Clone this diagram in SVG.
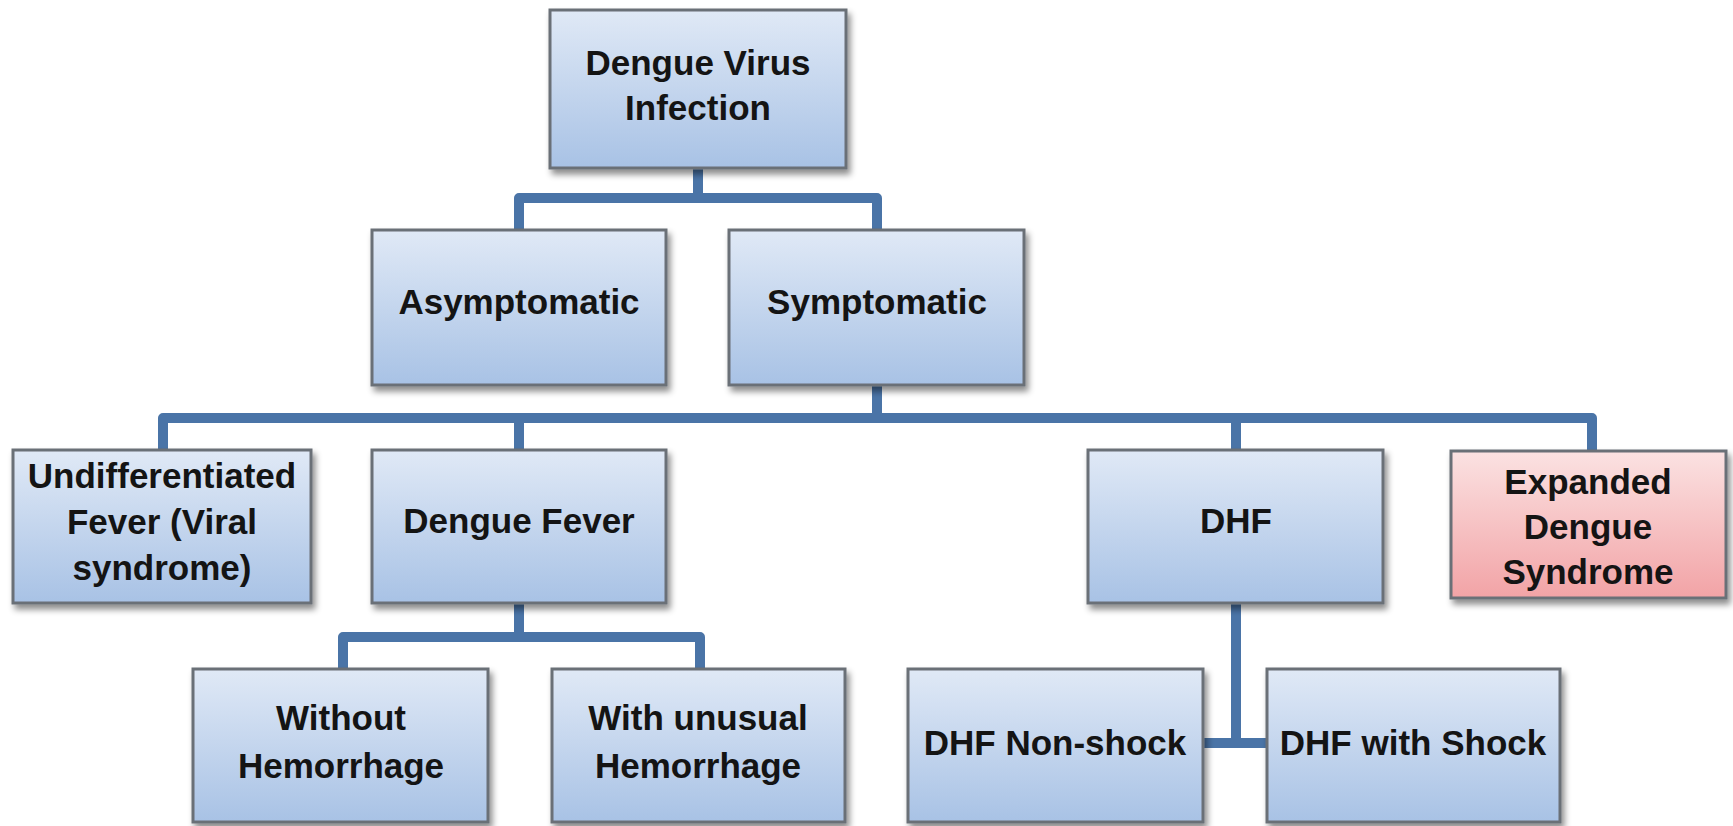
<svg xmlns="http://www.w3.org/2000/svg" width="1733" height="826" viewBox="0 0 1733 826">
<defs>
<linearGradient id="gBlue" x1="0" y1="0" x2="0" y2="1">
<stop offset="0" stop-color="#e0e9f6"/>
<stop offset="1" stop-color="#a8c2e5"/>
</linearGradient>
<linearGradient id="gPink" x1="0" y1="0" x2="0" y2="1">
<stop offset="0" stop-color="#fbe2e2"/>
<stop offset="1" stop-color="#f2a3a6"/>
</linearGradient>
<filter id="sh" x="-10%" y="-10%" width="125%" height="130%">
<feDropShadow dx="3" dy="5" stdDeviation="3" flood-color="#000" flood-opacity="0.45"/>
</filter>
</defs>
<style>
.box{fill:url(#gBlue);stroke:#6a6f77;stroke-width:3;filter:url(#sh)}
.pink{fill:url(#gPink);stroke:#6a6f77;stroke-width:3;filter:url(#sh)}
.t{font-family:"Liberation Sans",Arial,sans-serif;font-weight:bold;font-size:35px;fill:#141414;text-anchor:middle}
.c{fill:none;stroke:#4a74a7;stroke-width:10;stroke-linejoin:round}
</style>
<rect width="1733" height="826" fill="#ffffff"/>
<g id="connectors">
<path class="c" d="M698,168 V198 M519,230 V198 H877 V230"/>
<path class="c" d="M877,385 V418 M163,450 V418 H1592 V450 M519,418 V450 M1236,418 V450"/>
<path class="c" d="M519,603 V637 M343,669 V637 H700 V669"/>
<path class="c" d="M1236,603 V743 M1203,743 H1267"/>
</g>
<g id="n-dengue-virus-infection">
<rect class="box" x="550" y="10" width="296" height="158"/>
<text class="t" x="698" y="75">Dengue Virus</text>
<text class="t" x="698" y="120">Infection</text>
</g>
<g id="n-asymptomatic">
<rect class="box" x="372" y="230" width="294" height="155"/>
<text class="t" x="519" y="314">Asymptomatic</text>
</g>
<g id="n-symptomatic">
<rect class="box" x="729" y="230" width="295" height="155"/>
<text class="t" x="877" y="314">Symptomatic</text>
</g>
<g id="n-undifferentiated">
<rect class="box" x="13" y="450" width="298" height="153"/>
<text class="t" x="162" y="488">Undifferentiated</text>
<text class="t" x="162" y="534">Fever (Viral</text>
<text class="t" x="162" y="580">syndrome)</text>
</g>
<g id="n-dengue-fever">
<rect class="box" x="372" y="450" width="294" height="153"/>
<text class="t" x="519" y="533">Dengue Fever</text>
</g>
<g id="n-dhf">
<rect class="box" x="1088" y="450" width="295" height="153"/>
<text class="t" x="1236" y="533">DHF</text>
</g>
<g id="n-expanded">
<rect class="pink" x="1451" y="451" width="275" height="147"/>
<text class="t" x="1588" y="494">Expanded</text>
<text class="t" x="1588" y="539">Dengue</text>
<text class="t" x="1588" y="584">Syndrome</text>
</g>
<g id="n-without-hemorrhage">
<rect class="box" x="193" y="669" width="295" height="153"/>
<text class="t" x="341" y="730">Without</text>
<text class="t" x="341" y="778">Hemorrhage</text>
</g>
<g id="n-with-unusual-hemorrhage">
<rect class="box" x="552" y="669" width="293" height="153"/>
<text class="t" x="698" y="730">With unusual</text>
<text class="t" x="698" y="778">Hemorrhage</text>
</g>
<g id="n-dhf-non-shock">
<rect class="box" x="908" y="669" width="295" height="153"/>
<text class="t" x="1055" y="755">DHF Non-shock</text>
</g>
<g id="n-dhf-with-shock">
<rect class="box" x="1267" y="669" width="293" height="153"/>
<text class="t" x="1413" y="755">DHF with Shock</text>
</g>
</svg>
